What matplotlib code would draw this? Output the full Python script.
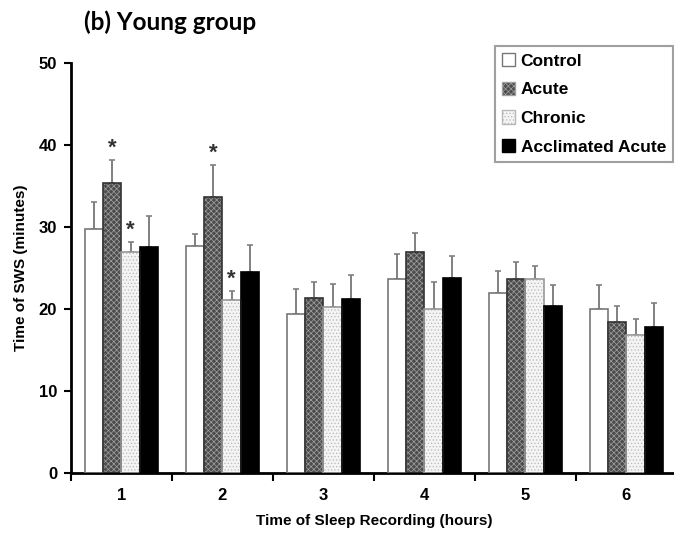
import matplotlib
matplotlib.use("Agg")
import matplotlib.pyplot as plt
from matplotlib.patches import Patch
import numpy as np

hours = ["1", "2", "3", "4", "5", "6"]
groups = ["Control", "Acute", "Chronic", "Acclimated Acute"]

control = [29.7, 27.7, 19.4, 23.6, 22.0, 20.0]
acute = [35.4, 33.7, 21.4, 26.9, 23.6, 18.4]
chronic = [26.9, 21.1, 20.2, 20.0, 23.6, 16.8]
acclimated = [27.5, 24.5, 21.2, 23.8, 20.4, 17.8]

# upper end of each error bar
control_top = [33.1, 29.2, 22.4, 26.7, 24.6, 22.9]
acute_top = [38.2, 37.6, 23.3, 29.3, 25.7, 20.4]
chronic_top = [28.2, 22.2, 23.0, 23.3, 25.3, 18.8]
acclimated_top = [31.4, 27.8, 24.2, 26.5, 22.9, 20.7]

# (hour index, group index) marked significant
stars = [(0, 1), (0, 2), (1, 1), (1, 2)]

plt.rcParams["font.family"] = ["Liberation Sans", "DejaVu Sans"]
plt.rcParams["font.weight"] = "bold"
plt.rcParams["hatch.linewidth"] = 0.5

fig = plt.figure(figsize=(6.74, 5.40), dpi=100)
ax = fig.add_axes([71 / 674, 67 / 540, 606 / 674, 410 / 540])

means = [control, acute, chronic, acclimated]
tops = [control_top, acute_top, chronic_top, acclimated_top]
# fill colour, hatch colour, outline colour, hatch
styles = [
    ("white", "white", "#777777", None),
    ("#4c4c4c", "#a0a0a0", "#333333", "xxxxxx"),
    ("#f4f4f4", "#b8b8b8", "#999999", "....."),
    ("black", "black", "black", None),
]

x = np.arange(len(hours)) + 0.5
width = 0.18
offsets = [-1.5 * width, -0.5 * width, 0.5 * width, 1.5 * width]

for vals, top, st, off in zip(means, tops, styles, offsets):
    fc, hc, ec, hatch = st
    vals = np.array(vals)
    err = np.array(top) - vals
    ax.bar(x + off, vals, width, facecolor=fc, edgecolor=hc, hatch=hatch,
           linewidth=0, zorder=2)
    ax.bar(x + off, vals, width, fill=False, edgecolor=ec, linewidth=1.2, zorder=3)
    ax.errorbar(x + off, vals, yerr=[np.zeros_like(err), err], fmt="none",
                ecolor="#808080", elinewidth=1.4, capsize=2, capthick=1.2, zorder=1)

for hi, gi in stars:
    ax.text(x[hi] + offsets[gi], tops[gi][hi] + 0.1, "*", ha="center", va="bottom",
            fontsize=16, color="#333333")

ax.set_xlim(0, 6)
ax.set_ylim(0, 50)
ax.set_yticks([0, 10, 20, 30, 40, 50])
ax.set_xticks(x)
ax.set_xticklabels(hours)
ax.set_xticks(np.arange(0, 7), minor=True)
ax.tick_params(axis="x", which="major", length=0, pad=11, labelsize=12)
ax.tick_params(axis="x", which="minor", length=6, width=1.5, direction="out")
ax.tick_params(axis="y", length=5, width=1.5, direction="out", labelsize=12, pad=5)

for side in ["top", "right"]:
    ax.spines[side].set_visible(False)
for side in ["left", "bottom"]:
    ax.spines[side].set_linewidth(2)

ax.set_xlabel("Time of Sleep Recording (hours)", fontsize=11, fontweight="bold", labelpad=8)
ax.set_ylabel("Time of SWS (minutes)", fontsize=11, fontweight="bold", labelpad=8)

handles = [Patch(facecolor=fc, edgecolor=hc if hatch else ec, hatch=hatch, linewidth=1)
           for fc, hc, ec, hatch in styles]
leg = fig.legend(handles, groups, loc="upper right", bbox_to_anchor=(673 / 674, 1 - 46 / 540),
                 fontsize=12.5, frameon=True, fancybox=False, edgecolor="#888888",
                 handlelength=0.8, handleheight=0.8, handletextpad=0.3,
                 labelspacing=0.75, borderpad=0.4, borderaxespad=0)
leg.get_frame().set_linewidth(1.5)
for t in leg.get_texts():
    t.set_fontweight("bold")

fig.text(84 / 674, 1 - 22 / 540, "(b) Young group", ha="left", va="center",
         fontsize=17.5, fontweight="bold", family=["Lato", "DejaVu Sans"])

fig.savefig("out.png", dpi=100)
